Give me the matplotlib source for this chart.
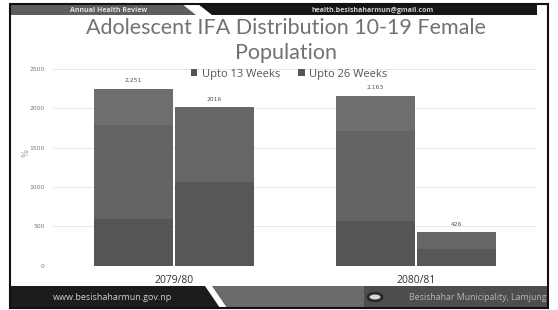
import numpy as np
import matplotlib
matplotlib.use("Agg")
import matplotlib.pyplot as plt
from matplotlib.patches import Polygon, Rectangle, Patch, Circle

# Dados do gráfico
categorias = ['2079/80', '2080/81']
series = ['Upto 13 Weeks', 'Upto 26 Weeks']

# Upto 13 Weeks: três faixas empilhadas (base, meio, total)
semana13_base = [593, 568]
semana13_meio = [1788, 1716]
semana13_total = [2251, 2163]
semana13_rotulos = ['2,251', '2,163']

# Upto 26 Weeks: duas faixas (base, total)
semana26_base = [1060, 216]
semana26_total = [2016, 426]
semana26_rotulos = ['2016', '426']

yticks = [0, 500, 1000, 1500, 2000, 2500]

W, H = 558, 310
fig = plt.figure(figsize=(W / 100, H / 100), dpi=100)
fig.patch.set_facecolor('white')


def px(x, y):
    # coordenadas em pixels (origem no topo) -> fração da figura
    return (x / W, 1 - y / H)


def poly(pts, cor):
    fig.patches.append(Polygon([px(*p) for p in pts], closed=True, transform=fig.transFigure,
                               facecolor=cor, edgecolor='none', zorder=0))


# Cabeçalho e rodapé do slide
poly([(10, 4), (182, 4), (196, 15), (10, 15)], '#5e5e5e')
poly([(198, 4), (537, 4), (537, 15), (212, 15)], '#161616')
poly([(10, 286), (205, 286), (220, 308), (10, 308)], '#1c1c1c')
poly([(212, 286), (364, 286), (364, 308), (227, 308)], '#6a6a6a')
poly([(364, 286), (548, 286), (548, 308), (364, 308)], '#4e4e4e')
fig.patches.append(Circle(px(375, 297), 7 / W, transform=fig.transFigure,
                          facecolor='#d8d8d8', edgecolor='#2a2a2a', lw=2, zorder=1))
fig.patches.append(Rectangle(px(10, 308), 538 / W, 304 / H, transform=fig.transFigure,
                             facecolor='none', edgecolor='#111111', lw=1.5, zorder=3))

fig.text(*px(109, 10), 'Annual Health Review', fontsize=5, fontweight='bold',
         color='#e0e0e0', ha='center', va='center', family='Open Sans')
fig.text(*px(373, 10), 'health.besishaharmun@gmail.com', fontsize=5, fontweight='bold',
         color='#d0d0d0', ha='center', va='center', family='Open Sans')
fig.text(*px(113, 297), 'www.besishaharmun.gov.np', fontsize=6.5,
         color='#d0d0d0', ha='center', va='center', family='Open Sans')
fig.text(*px(478, 297), 'Besishahar Municipality, Lamjung', fontsize=6.3,
         color='#b5b5b5', ha='center', va='center', family='Open Sans')

# Título
fig.text(*px(286, 28), 'Adolescent IFA Distribution 10-19 Female', fontsize=15.5,
         color='#727272', ha='center', va='center', family='Lato')
fig.text(*px(286, 53), 'Population', fontsize=15.5,
         color='#727272', ha='center', va='center', family='Lato')

# Eixo do gráfico
ax = fig.add_axes([53 / W, 1 - 265.7 / H, 484 / W, 196.7 / H])
x = np.arange(len(categorias))
larg = 0.335
x13 = x - larg / 2
x26 = x + larg / 2

cores13 = ['#555555', '#646464', '#6e6e6e']
cores26 = ['#575757', '#666666']
kw = dict(width=larg - 0.006, linewidth=0, zorder=2)

ax.bar(x13, semana13_base, color=cores13[0], **kw)
ax.bar(x13, np.subtract(semana13_meio, semana13_base), bottom=semana13_base, color=cores13[1], **kw)
ax.bar(x13, np.subtract(semana13_total, semana13_meio), bottom=semana13_meio, color=cores13[2], **kw)
ax.bar(x26, semana26_base, color=cores26[0], **kw)
ax.bar(x26, np.subtract(semana26_total, semana26_base), bottom=semana26_base, color=cores26[1], **kw)

for xi, v, r in zip(x13, semana13_total, semana13_rotulos):
    ax.text(xi, v + 70, r, ha='center', va='bottom', fontsize=4.3, color='#555555')
for xi, v, r in zip(x26, semana26_total, semana26_rotulos):
    ax.text(xi, v + 70, r, ha='center', va='bottom', fontsize=4.3, color='#555555')

ax.set_xlim(-0.5, 1.5)
ax.set_ylim(0, 2500)
ax.set_yticks(yticks)
ax.set_yticklabels([str(t) for t in yticks], fontsize=4.3, color='#777777')
ax.set_xticks(x)
ax.set_xticklabels(categorias, fontsize=7.5, color='#333333', family='Open Sans')
ax.tick_params(axis='y', length=0, pad=6)
ax.tick_params(axis='x', length=0, pad=7)
ax.grid(axis='y', color='#e4e4e4', linewidth=0.6, zorder=0)
ax.set_axisbelow(True)
for s in ax.spines.values():
    s.set_visible(False)
ax.patch.set_alpha(0)

fig.text(*px(26, 153), '%', fontsize=6, color='#999999', rotation=90, ha='center', va='center')

# Legenda
handles = [Patch(facecolor='#555555'), Patch(facecolor='#555555')]
fig.legend(handles, series, loc='center', bbox_to_anchor=px(289, 74), ncol=2, frameon=False,
           handlelength=0.6, handleheight=0.6, handletextpad=0.4, columnspacing=1.6,
           labelcolor='#555555', prop={'family': 'Open Sans', 'size': 8})

fig.savefig('out.png', dpi=100)
